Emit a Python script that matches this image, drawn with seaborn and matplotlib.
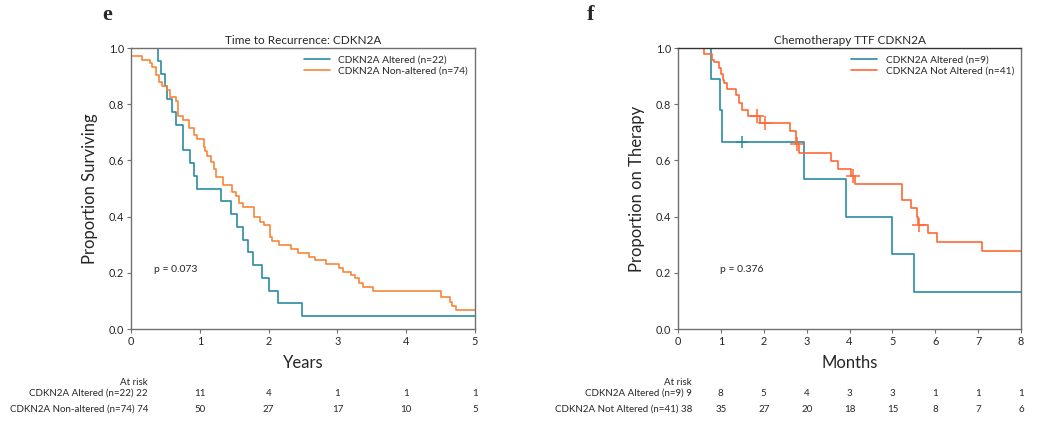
import matplotlib
matplotlib.use("Agg")
import matplotlib.pyplot as plt
from matplotlib.transforms import blended_transform_factory
import seaborn as sns

# --- data ---
# panel e: time to recurrence (years)
recur_alt_t = [0, 0.39, 0.43, 0.49, 0.52, 0.60, 0.66, 0.76, 0.86, 0.92, 0.96, 1.31, 1.46,
               1.54, 1.63, 1.70, 1.78, 1.90, 2.00, 2.14, 2.49, 5.0]
recur_alt_s = [1.0, 0.955, 0.909, 0.864, 0.818, 0.773, 0.727, 0.636, 0.591, 0.545, 0.5, 0.455,
               0.409, 0.364, 0.318, 0.273, 0.227, 0.182, 0.136, 0.091, 0.045, 0.045]

recur_non_t = [0, 0.16, 0.28, 0.31, 0.37, 0.41, 0.45, 0.52, 0.56, 0.655, 0.69, 0.76, 0.85,
               0.91, 0.956, 1.06, 1.08, 1.11, 1.165, 1.21, 1.24, 1.34, 1.47, 1.52, 1.576,
               1.63, 1.795, 1.87, 1.94, 2.02, 2.05, 2.15, 2.33, 2.43, 2.59, 2.68, 2.84, 3.03,
               3.08, 3.20, 3.25, 3.32, 3.37, 3.52, 4.51, 4.63, 4.67, 4.73, 5.0]
recur_non_s = [0.973, 0.959, 0.946, 0.932, 0.905, 0.878, 0.865, 0.851, 0.824, 0.811, 0.757,
               0.743, 0.716, 0.689, 0.676, 0.649, 0.635, 0.614, 0.595, 0.568, 0.541, 0.514,
               0.486, 0.474, 0.448, 0.434, 0.398, 0.382, 0.371, 0.329, 0.313, 0.299, 0.284,
               0.272, 0.258, 0.246, 0.231, 0.216, 0.204, 0.192, 0.181, 0.163, 0.151, 0.136,
               0.113, 0.097, 0.083, 0.068, 0.068]

recur_ticks = [0, 1, 2, 3, 4, 5]
recur_risk_alt = [22, 11, 4, 1, 1, 1]
recur_risk_non = [74, 50, 27, 17, 10, 5]

# panel f: chemotherapy time to treatment failure (months)
chemo_alt_t = [0, 0.76, 0.99, 1.03, 2.93, 3.93, 5.0, 5.5, 8.0]
chemo_alt_s = [1.0, 0.889, 0.778, 0.667, 0.533, 0.4, 0.267, 0.133, 0.133]
chemo_alt_cens_t = [1.49]
chemo_alt_cens_s = [0.667]

chemo_non_t = [0, 0.61, 0.79, 0.84, 0.96, 1.00, 1.04, 1.08, 1.15, 1.35, 1.42, 1.50, 1.63,
               1.91, 2.61, 2.76, 2.83, 3.56, 3.74, 4.04, 4.13, 5.23, 5.43, 5.57, 5.60,
               5.84, 6.03, 7.08, 8.0]
chemo_non_s = [1.0, 0.977, 0.959, 0.950, 0.930, 0.906, 0.887, 0.875, 0.854, 0.831, 0.803,
               0.779, 0.757, 0.732, 0.703, 0.658, 0.628, 0.597, 0.571, 0.545, 0.517, 0.458,
               0.429, 0.398, 0.369, 0.340, 0.310, 0.279, 0.279]
chemo_non_cens_t = [1.84, 2.02, 2.78, 4.09, 5.63]
chemo_non_cens_s = [0.757, 0.732, 0.658, 0.545, 0.369]

chemo_ticks = [0, 1, 2, 3, 4, 5, 6, 7, 8]
chemo_risk_alt = [9, 8, 5, 4, 3, 3, 1, 1, 1]
chemo_risk_non = [38, 35, 27, 20, 18, 15, 8, 7, 6]

# --- style ---
sns.set_theme(style="ticks")
plt.rcParams['font.family'] = ['Lato', 'DejaVu Sans']

BLUE = "#2b8ba3"
ORANGE_E = "#f8853a"
ORANGE_F = "#ff6a36"
SPINE = "#707070"

W, H = 1045, 423
fig = plt.figure(figsize=(W / 100, H / 100), dpi=100)

ax_e = fig.add_axes([131 / W, 1 - 329 / H, 344 / W, 281 / H])
ax_f = fig.add_axes([678 / W, 1 - 329 / H, 343 / W, 281 / H])


def style_axis(ax, xmax, ticks):
    ax.set_xlim(0, xmax)
    ax.set_ylim(0, 1)
    ax.set_xticks(ticks)
    ax.set_yticks([0, 0.2, 0.4, 0.6, 0.8, 1.0])
    ax.set_yticklabels([f"{v:.1f}" for v in [0, 0.2, 0.4, 0.6, 0.8, 1.0]])
    ax.tick_params(labelsize=7.8, length=3, width=0.8, color=SPINE, pad=2)
    for sp in ax.spines.values():
        sp.set_color(SPINE)
        sp.set_linewidth(1.0)


def at_risk(ax, ticks, labels, rows, label_px):
    trans = blended_transform_factory(ax.transData, fig.transFigure)
    fig.text(label_px / W, 1 - 382 / H, "At risk", ha='right', va='center', fontsize=7)
    for (lab, vals), ypx in zip(zip(labels, rows), [393, 409]):
        fig.text(label_px / W, 1 - ypx / H, f"{lab} {vals[0]}", ha='right', va='center',
                 fontsize=7)
        for t, v in zip(ticks[1:], vals[1:]):
            ax.text(t, 1 - ypx / H, str(v), transform=trans, ha='center', va='center',
                    fontsize=7)


# panel e
sns.lineplot(x=recur_alt_t, y=recur_alt_s, ax=ax_e, drawstyle='steps-post', estimator=None,
             sort=False, color=BLUE, lw=1.2, label="CDKN2A Altered (n=22)")
sns.lineplot(x=recur_non_t, y=recur_non_s, ax=ax_e, drawstyle='steps-post', estimator=None,
             sort=False, color=ORANGE_E, lw=1.2, label="CDKN2A Non-altered (n=74)")
style_axis(ax_e, 5, recur_ticks)
ax_e.set_title("Time to Recurrence: CDKN2A", fontsize=8.5, pad=3)
ax_e.set_xlabel("Years", fontsize=12, labelpad=6)
ax_e.set_ylabel("Proportion Surviving", fontsize=12, labelpad=8)
ax_e.text(0.34, 0.21, "p = 0.073", fontsize=7.5, va='center')
ax_e.legend(loc='upper right', frameon=False, fontsize=7.3, handlelength=2.6,
            borderaxespad=0.3, labelspacing=0.25)
at_risk(ax_e, recur_ticks, ["CDKN2A Altered (n=22)", "CDKN2A Non-altered (n=74)"],
        [recur_risk_alt, recur_risk_non], 148)

# panel f
sns.lineplot(x=chemo_alt_t, y=chemo_alt_s, ax=ax_f, drawstyle='steps-post', estimator=None,
             sort=False, color=BLUE, lw=1.2, label="CDKN2A Altered (n=9)")
sns.lineplot(x=chemo_non_t, y=chemo_non_s, ax=ax_f, drawstyle='steps-post', estimator=None,
             sort=False, color=ORANGE_F, lw=1.2, label="CDKN2A Not Altered (n=41)")
sns.scatterplot(x=chemo_alt_cens_t, y=chemo_alt_cens_s, ax=ax_f, marker='+', s=70,
                color=BLUE, linewidth=1.1, legend=False, zorder=4)
sns.scatterplot(x=chemo_non_cens_t, y=chemo_non_cens_s, ax=ax_f, marker='+', s=90,
                color=ORANGE_F, linewidth=1.1, legend=False, zorder=4)
style_axis(ax_f, 8, chemo_ticks)
ax_f.spines['top'].set_color("#333333")
ax_f.set_title("Chemotherapy TTF CDKN2A", fontsize=8.5, pad=3)
ax_f.set_xlabel("Months", fontsize=12, labelpad=6)
ax_f.set_ylabel("Proportion on Therapy", fontsize=12, labelpad=8)
ax_f.text(0.97, 0.21, "p = 0.376", fontsize=7.5, va='center')
ax_f.legend(loc='upper right', frameon=False, fontsize=7.3, handlelength=2.6,
            borderaxespad=0.3, labelspacing=0.25)
at_risk(ax_f, chemo_ticks, ["CDKN2A Altered (n=9)", "CDKN2A Not Altered (n=41)"],
        [chemo_risk_alt, chemo_risk_non], 692)

# panel letters
fig.text(107 / W, 1 - 15 / H, "e", fontsize=16, fontweight='bold', family='Liberation Serif',
         ha='center', va='center')
fig.text(591 / W, 1 - 15 / H, "f", fontsize=16, fontweight='bold', family='Liberation Serif',
         ha='center', va='center')

fig.savefig("out.png", dpi=100, facecolor='white')
